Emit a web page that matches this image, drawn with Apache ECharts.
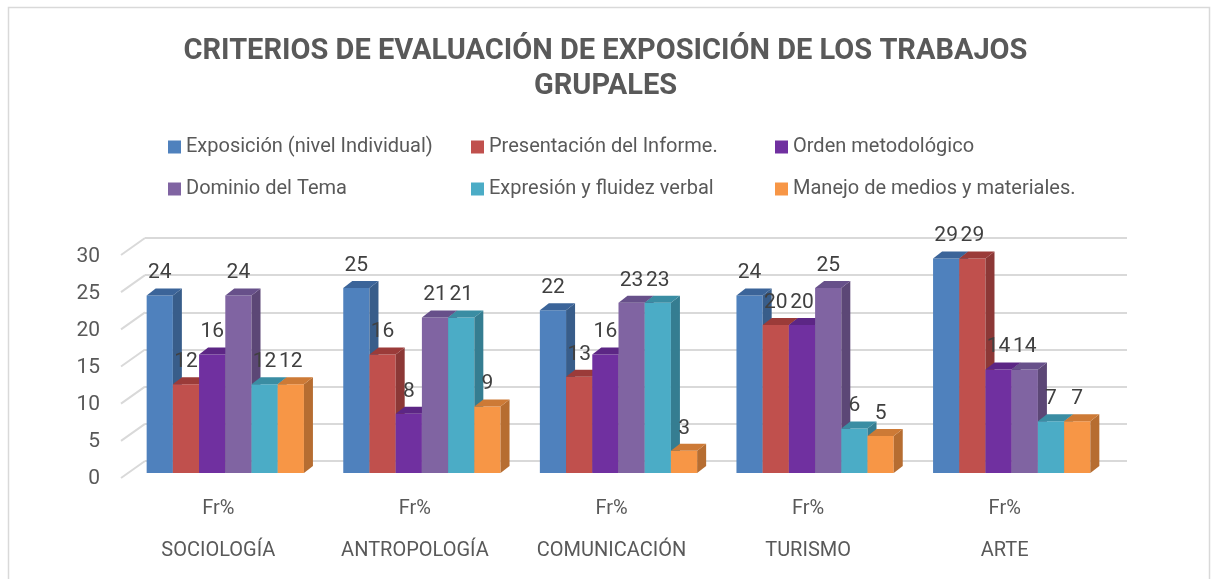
<!DOCTYPE html>
<html>
<head>
<meta charset="utf-8">
<script src="https://cdn.jsdelivr.net/npm/echarts@6/dist/echarts.min.js"></script>
<style>
  html, body { margin: 0; padding: 0; background: #fff; }
  #chart { width: 1211px; height: 579px; }
</style>
</head>
<body>
<div id="chart"></div>
<script>
// data
const categories = ['SOCIOLOGÍA', 'ANTROPOLOGÍA', 'COMUNICACIÓN', 'TURISMO', 'ARTE'];
const seriesNames = [
  'Exposición (nivel Individual)',
  'Presentación del Informe.',
  'Orden metodológico',
  'Dominio del Tema',
  'Expresión y fluidez verbal',
  'Manejo de medios y materiales.'
];
const exposicion = [24, 25, 22, 24, 29];
const presentacion = [12, 16, 13, 20, 29];
const orden = [16, 8, 16, 20, 14];
const dominio = [24, 21, 23, 25, 14];
const expresion = [12, 21, 23, 6, 7];
const manejo = [12, 9, 3, 5, 7];
const yTicks = [0, 5, 10, 15, 20, 25, 30];

const seriesValues = [exposicion, presentacion, orden, dominio, expresion, manejo];

// colours: front, side, top
const frontColors = ['#4F81BD', '#C0504D', '#7030A0', '#8064A2', '#4BACC6', '#F79646'];
const sideColors = ['#385D8A', '#8C3836', '#4F2270', '#5C4776', '#357D91', '#B66D31'];
const topColors = ['#3B6499', '#9B3B39', '#5C2685', '#67508A', '#3A8DA3', '#CD7A36'];

const FONT = "Roboto, 'Liberation Sans', sans-serif";
const DEPTH_X = 9, DEPTH_Y = 7;

const chart = echarts.init(document.getElementById('chart'));

function barRenderer(idx) {
  return function (params, api) {
    const cat = api.value(0);
    const val = api.value(1);
    const base = api.coord([cat, 0]);
    const top = api.coord([cat, val]);
    const band = api.size([1, 0])[0];
    const groupW = band * 0.8;
    const w = groupW / seriesNames.length;
    const x0 = base[0] - groupW / 2 + idx * w;
    const x1 = x0 + w;
    const yTop = top[1];
    const yBot = base[1];
    return {
      type: 'group',
      children: [
        {
          type: 'rect',
          shape: { x: x0, y: yTop, width: w, height: yBot - yTop },
          style: { fill: frontColors[idx] }
        },
        {
          type: 'polygon',
          shape: { points: [[x1, yTop], [x1 + DEPTH_X, yTop - DEPTH_Y], [x1 + DEPTH_X, yBot - DEPTH_Y], [x1, yBot]] },
          style: { fill: sideColors[idx] }
        },
        {
          type: 'polygon',
          shape: { points: [[x0, yTop], [x0 + DEPTH_X, yTop - DEPTH_Y], [x1 + DEPTH_X, yTop - DEPTH_Y], [x1, yTop]] },
          style: { fill: topColors[idx] }
        },
        {
          type: 'text',
          z2: 100,
          style: {
            x: (x0 + x1) / 2,
            y: yTop - 12,
            text: String(val),
            fill: '#404040',
            font: '21px ' + FONT,
            align: 'center',
            verticalAlign: 'bottom'
          }
        }
      ]
    };
  };
}

const barSeries = seriesNames.map(function (name, i) {
  return {
    name: name,
    type: 'custom',
    xAxisIndex: 1,
    yAxisIndex: 1,
    itemStyle: { color: frontColors[i] },
    renderItem: barRenderer(i),
    encode: { x: 0, y: 1 },
    data: categories.map(function (c, j) { return [j, seriesValues[i][j]]; })
  };
});

// one legend block per entry, laid out in two rows of three
const legendLeft = [163, 466, 770];
const legendTop = [130, 172];
const legends = seriesNames.map(function (name, i) {
  return {
    data: [name],
    left: legendLeft[i % 3],
    top: legendTop[Math.floor(i / 3)],
    icon: 'rect',
    itemWidth: 13,
    itemHeight: 13,
    itemGap: 0,
    textStyle: { fontFamily: FONT, fontSize: 20, color: '#595959', lineHeight: 24 }
  };
});

const option = {
  backgroundColor: '#fff',
  animation: false,
  title: {
    text: 'CRITERIOS DE EVALUACIÓN DE EXPOSICIÓN DE LOS TRABAJOS\nGRUPALES',
    left: 'center',
    top: 29,
    textStyle: { fontFamily: FONT, fontSize: 29, fontWeight: 'bold', color: '#595959', lineHeight: 35 }
  },
  legend: legends,
  graphic: [{
    type: 'rect',
    shape: { x: 8.5, y: 7.5, width: 1201, height: 620 },
    style: { fill: 'none', stroke: '#d9d9d9', lineWidth: 1.5 },
    silent: true
  }],
  grid: [
    { left: 145, right: 84, top: 238, bottom: 118 },
    { left: 127, right: 101, top: 251, bottom: 106 }
  ],
  xAxis: [
    { gridIndex: 0, type: 'value', min: 0, max: 1, show: false },
    {
      gridIndex: 1, type: 'category', data: categories,
      axisLine: { show: false }, axisTick: { show: false },
      axisLabel: {
        interval: 0,
        margin: 15,
        formatter: function (v) { return 'Fr%\n' + v; },
        fontFamily: FONT, fontSize: 20, color: '#595959', lineHeight: 42,
        padding: [0, 14, 0, 0]
      }
    }
  ],
  yAxis: [
    {
      gridIndex: 0, type: 'value', min: 0, max: 30, interval: 5,
      axisLine: { show: false }, axisTick: { show: false }, axisLabel: { show: false },
      splitLine: { lineStyle: { color: '#d9d9d9', width: 2 } }
    },
    {
      gridIndex: 1, type: 'value', min: 0, max: 30, interval: 5,
      axisLine: { show: false }, axisTick: { show: false }, splitLine: { show: false },
      axisLabel: { margin: 27, fontFamily: FONT, fontSize: 21, color: '#595959', verticalAlign: 'top', padding: [-5, 0, 0, 0] }
    }
  ],
  series: [{
    type: 'custom',
    xAxisIndex: 0,
    yAxisIndex: 0,
    silent: true,
    z: 1,
    renderItem: function (params, api) {
      const p = api.coord([0, api.value(0)]);
      return {
        type: 'line',
        shape: { x1: p[0] - 24, y1: p[1] + 17, x2: p[0], y2: p[1] },
        style: { stroke: '#d9d9d9', lineWidth: 2 }
      };
    },
    encode: { y: 0 },
    data: yTicks.map(function (t) { return [t]; })
  }].concat(barSeries)
};

chart.setOption(option);
</script>
</body>
</html>
